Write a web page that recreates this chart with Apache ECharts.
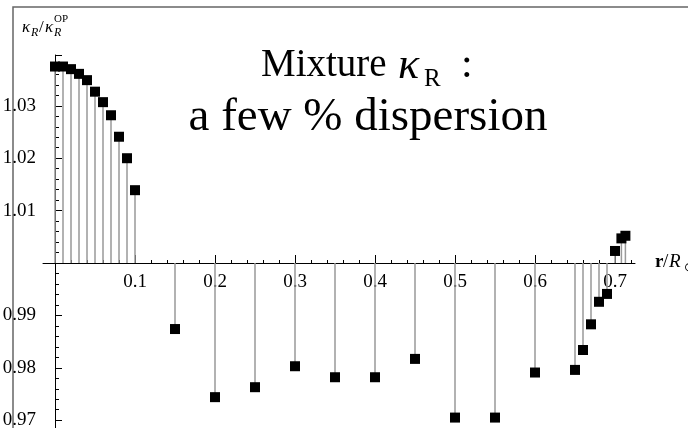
<!DOCTYPE html>
<html>
<head>
<meta charset="utf-8">
<script src="https://cdn.jsdelivr.net/npm/echarts@6/dist/echarts.min.js"></script>
<style>
html, body { margin: 0; padding: 0; background: #fff; }
#chart { width: 688px; height: 428px; }
</style>
</head>
<body>
<div id="chart"></div>
<script>
// r / R_sun and kappa_R / kappa_R(OP)
var radius = [0, 0.01, 0.02, 0.03, 0.04, 0.05, 0.06, 0.07, 0.08, 0.09, 0.10,
    0.15, 0.20, 0.25, 0.30, 0.35, 0.40, 0.45, 0.50, 0.55, 0.60,
    0.65, 0.66, 0.67, 0.68, 0.69, 0.70, 0.708, 0.713];
var kappaRatio = [1.0375, 1.0375, 1.0370, 1.0361, 1.0349, 1.0327, 1.0307, 1.0282, 1.0241, 1.0200, 1.0139,
    0.9874, 0.9744, 0.9763, 0.9803, 0.9782, 0.9782, 0.9817, 0.9705, 0.9705, 0.9791,
    0.9796, 0.9834, 0.9883, 0.9926, 0.9941, 1.0023, 1.0047, 1.0052];

var yTickLabels = [0.97, 0.98, 0.99, 1.01, 1.02, 1.03];
var xTickLabels = [0.1, 0.2, 0.3, 0.4, 0.5, 0.6, 0.7];
var xMinorTicks = [0.02, 0.04, 0.06, 0.08, 0.12, 0.14, 0.16, 0.18, 0.22, 0.24, 0.26, 0.28,
    0.32, 0.34, 0.36, 0.38, 0.42, 0.44, 0.46, 0.48, 0.52, 0.54, 0.56, 0.58,
    0.62, 0.64, 0.66, 0.68, 0.72];

var serif = '"Liberation Serif", "Times New Roman", serif';
var base = 1; // the x axis crosses at kappa ratio 1

// values relative to the crossing, so bars hang from the axis
var points = radius.map(function (r, i) {
    return [r, +(kappaRatio[i] - base).toFixed(4)];
});

// grid bottom sits below the canvas; the x axes are lifted back to the crossing line
var gridTop = 55, gridBottom = -44.6, yMin = -0.04, yMax = 0.0397;
var plotH = 428 - gridTop - gridBottom;
var crossOffset = -plotH * (0 - yMin) / (yMax - yMin);

function txt(text, x, y, size, extra) {
    var style = {
        text: text,
        x: x,
        y: y,
        font: (extra && extra.font ? extra.font + ' ' : '') + size + 'px ' + serif,
        fill: '#000',
        align: (extra && extra.align) || 'left',
        verticalAlign: 'middle'
    };
    return { type: 'text', silent: true, z: 10, style: style };
}

var chart = echarts.init(document.getElementById('chart'));

chart.setOption({
    animation: false,
    backgroundColor: '#fff',
    grid: { left: 43, right: 53, top: gridTop, bottom: gridBottom, containLabel: false, outerBoundsMode: 'none' },
    xAxis: [{
        type: 'value',
        position: 'bottom',
        offset: crossOffset,
        min: -0.015,
        max: 0.725,
        splitLine: { show: false },
        axisLine: { show: true, onZero: false, lineStyle: { color: '#000', width: 1 } },
        axisTick: { show: true, inside: true, length: 3, customValues: xMinorTicks, lineStyle: { color: '#000' } },
        axisLabel: {
            customValues: xTickLabels,
            margin: 10,
            fontFamily: serif,
            fontSize: 19,
            color: '#000',
            formatter: function (v) { return v.toFixed(1); }
        }
    }, {
        type: 'value',
        position: 'bottom',
        offset: crossOffset,
        min: -0.015,
        max: 0.725,
        splitLine: { show: false },
        axisLine: { show: false, onZero: false },
        axisTick: { show: true, inside: true, length: 8, customValues: xTickLabels, lineStyle: { color: '#000' } },
        axisLabel: { show: false }
    }],
    yAxis: {
        type: 'value',
        min: yMin,
        max: yMax,
        interval: 0.01,
        splitLine: { show: false },
        axisLine: { show: true, onZero: true, lineStyle: { color: '#000', width: 1 } },
        axisTick: { show: true, inside: true, length: 7, lineStyle: { color: '#000' } },
        minorTick: { show: true, splitNumber: 5, length: 4, lineStyle: { color: '#000' } },
        axisLabel: {
            margin: 7,
            fontFamily: serif,
            fontSize: 19,
            color: '#000',
            formatter: function (v) {
                var t = +(base + v).toFixed(2);
                return yTickLabels.indexOf(t) >= 0 ? t.toFixed(2) : '';
            }
        }
    },
    graphic: [
        { type: 'rect', silent: true, z: 0, shape: { x: 13, y: 7, width: 700, height: 450 },
          style: { fill: 'none', stroke: '#666', lineWidth: 1.5 } },
        // title
        txt('Mixture', 261, 66, 39),
        txt('\u03ba', 398, 66, 44, { font: 'italic' }),
        txt('R', 424, 79, 25),
        txt(':', 461, 66, 42),
        txt('a few % dispersion', 368, 118, 47, { align: 'center' }),
        // y axis name
        txt('\u03ba', 22, 28, 17, { font: 'italic' }),
        txt('R', 31, 33, 12, { font: 'italic' }),
        txt('/', 39, 28, 17),
        txt('\u03ba', 45, 28, 17, { font: 'italic' }),
        txt('R', 54, 33, 12, { font: 'italic' }),
        txt('OP', 54, 19, 11),
        // x axis name
        txt('r', 655, 262, 19, { font: 'bold' }),
        txt('/', 663, 262, 19),
        txt('R', 669, 262, 19, { font: 'italic' }),
        txt('\u2299', 684, 268, 12)
    ],
    series: [{
        type: 'bar',
        xAxisIndex: 0,
        barWidth: 1.5,
        silent: true,
        itemStyle: { color: '#999' },
        data: points
    }, {
        type: 'scatter',
        xAxisIndex: 0,
        symbol: 'rect',
        symbolSize: 10,
        silent: true,
        z: 3,
        itemStyle: { color: '#000', opacity: 1 },
        data: points
    }]
});
</script>
</body>
</html>
